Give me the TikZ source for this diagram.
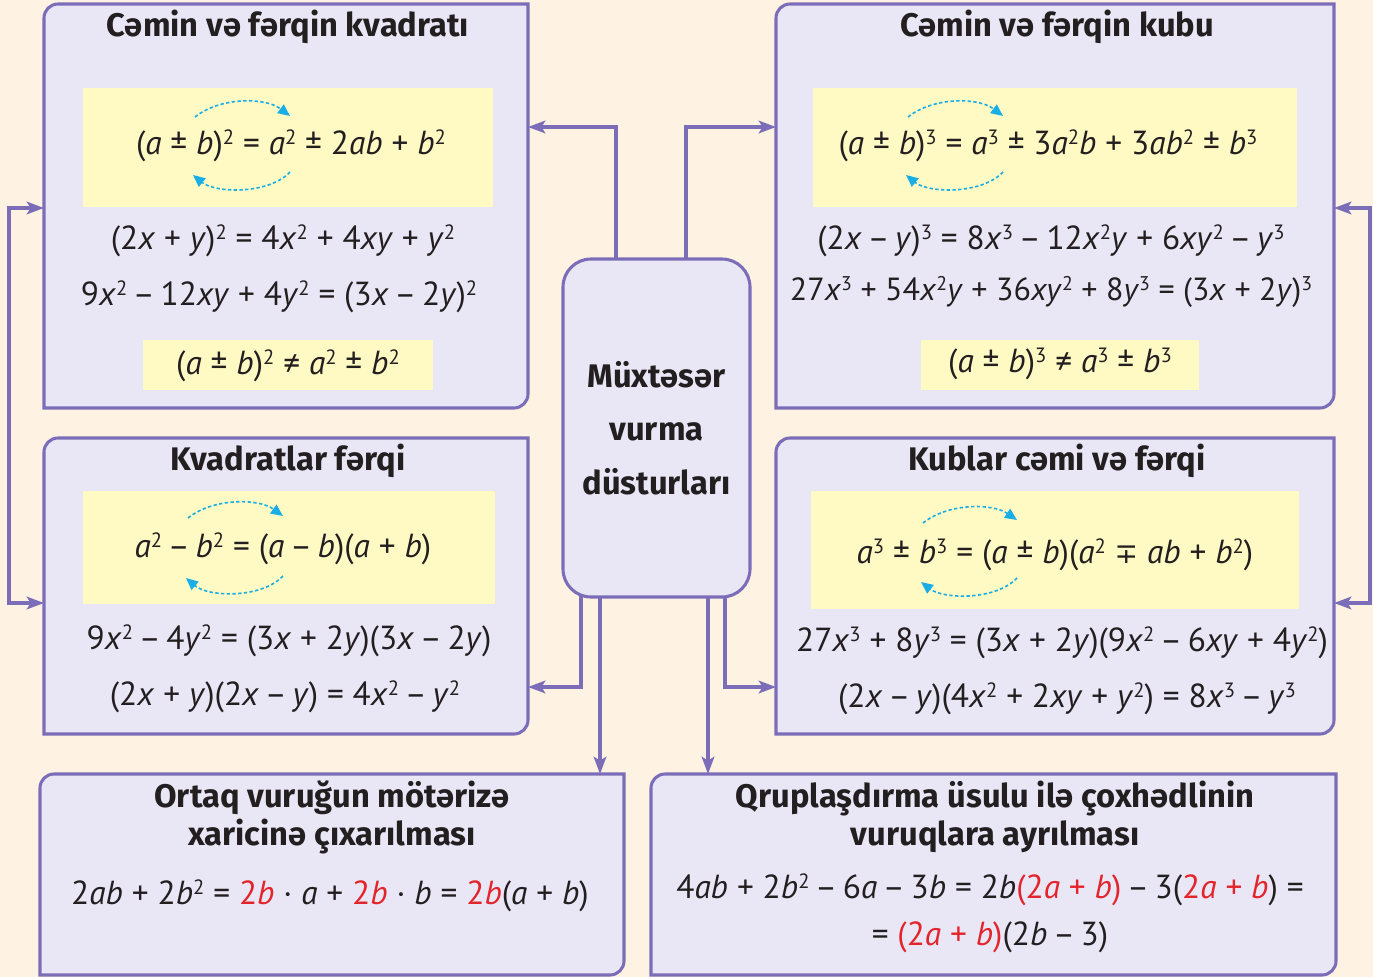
\documentclass[tikz,border=0pt]{standalone}
\usepackage{fontspec}
\usepackage{graphicx}
\setmainfont{PT Sans}
\newfontfamily\hfont{Fira Sans}
\newfontfamily\symf{DejaVu Sans}
\usetikzlibrary{arrows.meta}
\newdimen\px \px=0.75pt
\definecolor{bgc}{HTML}{FEF2E3}
\definecolor{boxc}{HTML}{E9E7F6}
\definecolor{linec}{HTML}{7C6DB9}
\definecolor{yelc}{HTML}{FFF9C3}
\definecolor{cyanc}{HTML}{19AEE6}
\definecolor{redc}{HTML}{E3242B}
\definecolor{ink}{HTML}{231F20}
\newcommand\vv[1]{\textit{#1}}
\newcommand\sps[1]{\raisebox{0.62ex}{\scalebox{0.62}{#1}}}
\newcommand\rd[1]{\textcolor{redc}{#1}}
\newcommand\mi{\hspace{0.17em}–\hspace{0.17em}}
\newcommand\panel[4]{% x1 y1 x2 y2 : rounded top-left and bottom-right
  \draw[panelst] (#1,#4) -- (#1,#2+14) arc[start angle=180,end angle=270,radius=14] -- (#3,#2) -- (#3,#4-14) arc[start angle=0,end angle=90,radius=14] -- cycle;}
\begin{document}
\begin{tikzpicture}[x=0.75pt,y=-0.75pt,
  panelst/.style={fill=boxc,draw=linec,line width=2.3pt},
  anchorbox/.style={inner sep=0pt,outer sep=0pt},
  conn/.style={draw=linec,line width=2.3pt,-{Stealth[length=13pt,width=9.5pt,inset=3pt]}},
  conn2/.style={draw=linec,line width=2.3pt,{Stealth[length=13pt,width=9.5pt,inset=3pt]}-{Stealth[length=13pt,width=9.5pt,inset=3pt]}},
  swap/.style={draw=cyanc,line width=1.2pt,dash pattern=on 2.5pt off 1.8pt,-{Triangle[length=9pt,width=8pt]}},
  ttl/.style={font=\hfont\bfseries\fontsize{24.5}{28.5}\selectfont,text=ink,align=center,inner sep=0pt},
  eq/.style={font=\fontsize{25}{29}\selectfont,text=ink,inner sep=0pt},
  yel/.style={fill=yelc}]
\useasboundingbox (0,0) rectangle (1373,977);
\fill[bgc] (0,0) rectangle (1373,977);

% panels
\panel{44}{4}{528}{408}
\panel{776}{4}{1334}{408}
\panel{44}{438}{528}{734}
\panel{776}{438}{1334}{734}
\panel{40}{774}{624}{975}
\panel{651}{774}{1336}{975}
\node[anchorbox,minimum width=484\px,minimum height=404\px] (TL) at (286,206) {};
\node[anchorbox,minimum width=558\px,minimum height=404\px] (TR) at (1055,206) {};
\node[anchorbox,minimum width=484\px,minimum height=296\px] (KF) at (286,586) {};
\node[anchorbox,minimum width=558\px,minimum height=296\px] (KC) at (1055,586) {};
\node[anchorbox,minimum width=584\px,minimum height=201\px] (OB) at (332,874.5) {};
\node[anchorbox,minimum width=685\px,minimum height=201\px] (QB) at (993.5,874.5) {};
\node[anchorbox,minimum width=187\px,minimum height=338\px] (CBa) at (656.5,427) {};

% yellow highlights
\fill[yel] (83,88) rectangle (493,207);
\fill[yel] (143,340) rectangle (433,390);
\fill[yel] (813,88) rectangle (1297,207);
\fill[yel] (921,340) rectangle (1199,390);
\fill[yel] (83,491) rectangle (495,604);
\fill[yel] (811,491) rectangle (1299,609);

% connectors
\coordinate (a1) at (616,127);
\coordinate (a2) at (686,127);
\coordinate (a3) at (581,687);
\coordinate (a4) at (600,774);
\coordinate (a5) at (708,774);
\coordinate (a6) at (725,687);
\coordinate (l1) at (9,208);
\coordinate (l2) at (9,603);
\coordinate (r1) at (1370,208);
\coordinate (r2) at (1370,603);
\draw[conn] (a1 |- CBa.north) -- (a1) -- (a1 -| TL.east);
\draw[conn] (a2 |- CBa.north) -- (a2) -- (a2 -| TR.west);
\draw[conn] (a3 |- CBa.south) -- (a3) -- (a3 -| KF.east);
\draw[conn] (a4 |- CBa.south) -- (a4 |- OB.north);
\draw[conn] (a5 |- CBa.south) -- (a5 |- QB.north);
\draw[conn] (a6 |- CBa.south) -- (a6) -- (a6 -| KC.west);
\draw[conn2] (l1 -| TL.west) -- (l1) -- (l2) -- (l2 -| KF.west);
\draw[conn2] (r1 -| TR.east) -- (r1) -- (r2) -- (r2 -| KC.east);

% central box
\node[draw=linec,fill=boxc,line width=2.3pt,rounded corners=21pt,minimum width=187\px,minimum height=338\px,inner sep=0pt,
      font=\hfont\bfseries\fontsize{24.5}{40}\selectfont,text=ink,align=center] (CB) at (656.5,428)
      {Müxtəsər\\vurma\\düsturları};

% titles
\node[ttl] (t1) at (288,27) {Cəmin və fərqin kvadratı};
\node[ttl] (t2) at (1057,27) {Cəmin və fərqin kubu};
\node[ttl] (t3) at (288,461) {Kvadratlar fərqi};
\node[ttl] (t4) at (1057,461) {Kublar cəmi və fərqi};
\node[ttl] (t5) at (332,817) {Ortaq vuruğun mötərizə\\xaricinə çıxarılması};
\node[ttl] (t6) at (995,817) {Qruplaşdırma üsulu ilə çoxhədlinin\\vuruqlara ayrılması};

% formulas: square of sum/difference
\node[eq] (f1) at (291,146) {(\vv{a} ± \vv{b})\sps{2} = \vv{a}\sps{2} ± 2\vv{ab} + \vv{b}\sps{2}};
\node[eq] (f2) at (283,241) {(2\vv{x} + \vv{y})\sps{2} = 4\vv{x}\sps{2} + 4\vv{xy} + \vv{y}\sps{2}};
\node[eq] (f3) at (279,297) {9\vv{x}\sps{2}\mi12\vv{xy} + 4\vv{y}\sps{2} = (3\vv{x}\mi2\vv{y})\sps{2}};
\node[eq] (f4) at (288,366) {(\vv{a} ± \vv{b})\sps{2} ≠ \vv{a}\sps{2} ± \vv{b}\sps{2}};

% cube
\node[eq] (g1) at (1048,146) {(\vv{a} ± \vv{b})\sps{3} = \vv{a}\sps{3} ± 3\vv{a}\sps{2}\vv{b} + 3\vv{ab}\sps{2} ± \vv{b}\sps{3}};
\node[eq] (g2) at (1051,241) {(2\vv{x}\mi\vv{y})\sps{3} = 8\vv{x}\sps{3}\mi12\vv{x}\sps{2}\vv{y} + 6\vv{xy}\sps{2}\mi\vv{y}\sps{3}};
\node[eq,font=\fontsize{24}{29}\selectfont] (g3) at (1051,292) {27\vv{x}\sps{3} + 54\vv{x}\sps{2}\vv{y} + 36\vv{xy}\sps{2} + 8\vv{y}\sps{3} = (3\vv{x} + 2\vv{y})\sps{3}};
\node[eq] (g4) at (1060,364) {(\vv{a} ± \vv{b})\sps{3} ≠ \vv{a}\sps{3} ± \vv{b}\sps{3}};

% difference of squares
\node[eq] (h1) at (283,549) {\vv{a}\sps{2}\mi\vv{b}\sps{2} = (\vv{a}\mi\vv{b})(\vv{a} + \vv{b})};
\node[eq] (h2) at (289,641) {9\vv{x}\sps{2}\mi4\vv{y}\sps{2} = (3\vv{x} + 2\vv{y})(3\vv{x}\mi2\vv{y})};
\node[eq] (h3) at (285,697) {(2\vv{x} + \vv{y})(2\vv{x}\mi\vv{y}) = 4\vv{x}\sps{2}\mi\vv{y}\sps{2}};

% sum/difference of cubes
\node[eq] (k1) at (1055,555) {\vv{a}\sps{3} ± \vv{b}\sps{3} = (\vv{a} ± \vv{b})(\vv{a}\sps{2} {\symf\fontsize{21}{25}\selectfont ∓} \vv{ab} + \vv{b}\sps{2})};
\node[eq] (k2) at (1062,643) {27\vv{x}\sps{3} + 8\vv{y}\sps{3} = (3\vv{x} + 2\vv{y})(9\vv{x}\sps{2}\mi6\vv{xy} + 4\vv{y}\sps{2})};
\node[eq] (k3) at (1067,699) {(2\vv{x}\mi\vv{y})(4\vv{x}\sps{2} + 2\vv{xy} + \vv{y}\sps{2}) = 8\vv{x}\sps{3}\mi\vv{y}\sps{3}};

% bottom formulas
\node[eq] (m1) at (330,896) {2\vv{ab} + 2\vv{b}\sps{2} = \rd{2\vv{b}} · \vv{a} + \rd{2\vv{b}} · \vv{b} = \rd{2\vv{b}}(\vv{a} + \vv{b})};
\node[eq] (n1) at (990,890) {4\vv{ab} + 2\vv{b}\sps{2}\mi6\vv{a}\mi3\vv{b} = 2\vv{b}\rd{(2\vv{a} + \vv{b})}\mi3(\rd{2\vv{a} + \vv{b}}) =};
\node[eq] (n2) at (990,937) {= \rd{(2\vv{a} + \vv{b})}(2\vv{b}\mi3)};

% swap arrows
\draw[swap] (195,117) .. controls (220,97) and (265,97) .. (290,116);
\draw[swap] (290,172) .. controls (268,195) and (215,193) .. (193,175);
\draw[swap] (908,117) .. controls (933,97) and (978,97) .. (1003,116);
\draw[swap] (1003,172) .. controls (981,195) and (928,193) .. (906,175);
\draw[swap] (188,518) .. controls (213,498) and (258,498) .. (283,516);
\draw[swap] (283,576) .. controls (261,599) and (208,597) .. (186,578);
\draw[swap] (923,523) .. controls (948,503) and (992,503) .. (1017,520);
\draw[swap] (1017,578) .. controls (995,601) and (943,599) .. (921,582);
\end{tikzpicture}
\end{document}
